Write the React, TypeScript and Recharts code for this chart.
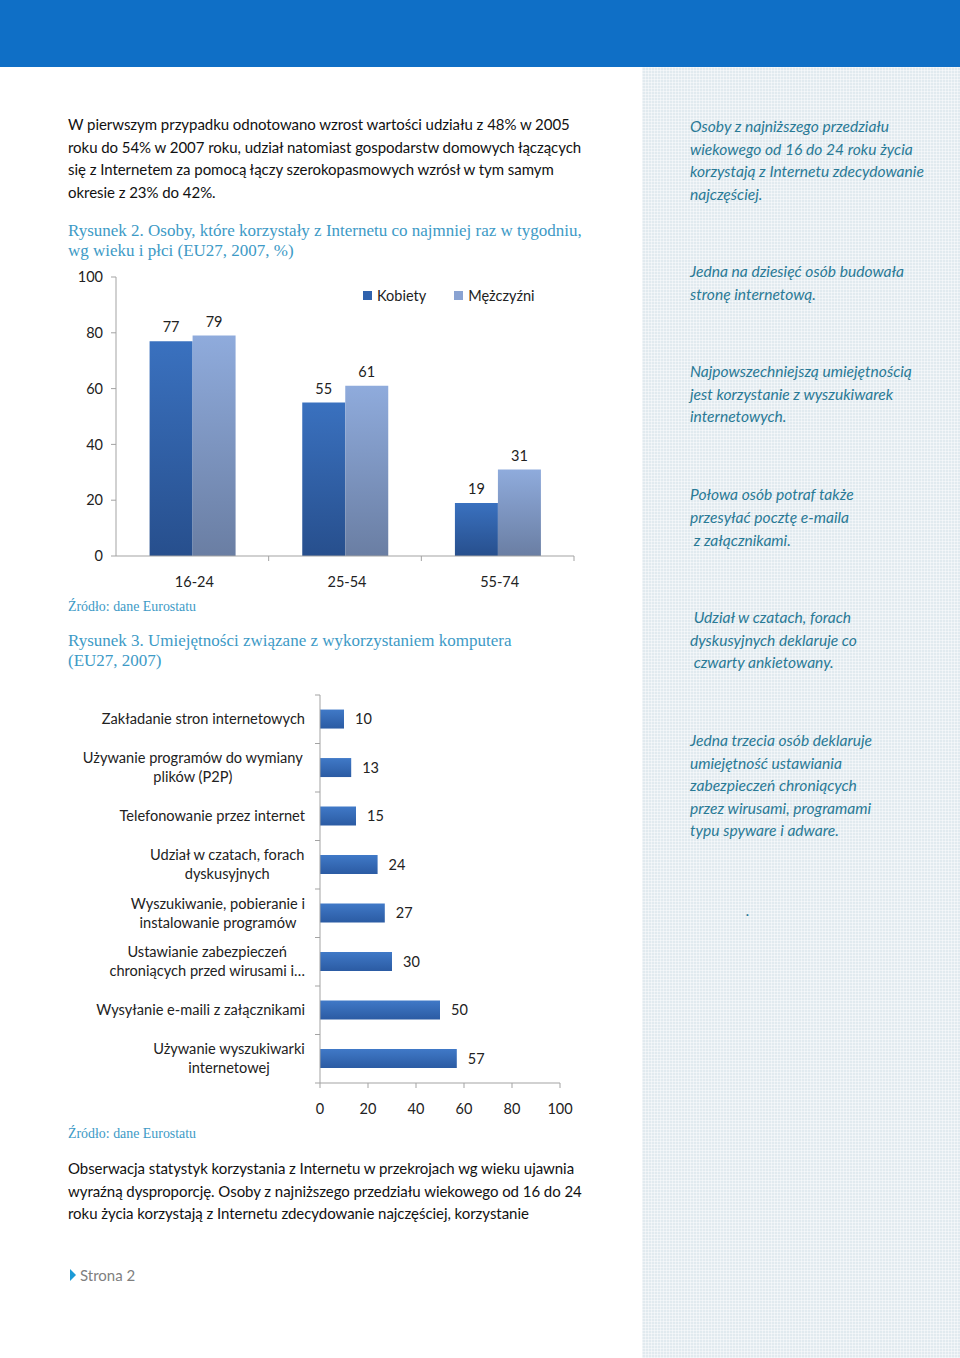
import { BarChart, Bar, XAxis, YAxis, Legend, LabelList } from 'recharts';

// Rysunek 2 – internet use by age and sex (EU27, 2007, %)
const ageGroups = ['16-24', '25-54', '55-74'];
const womenShare = [77, 55, 19];
const menShare = [79, 61, 31];
const ageTicks = [0, 20, 40, 60, 80, 100];

// Rysunek 3 – computer skills (EU27, 2007, %)
const skillNames = [
  'Zakładanie stron internetowych',
  'Używanie programów  do wymiany\nplików (P2P)',
  'Telefonowanie przez internet',
  'Udział w czatach, forach\ndyskusyjnych',
  'Wyszukiwanie, pobieranie i\ninstalowanie  programów',
  'Ustawianie  zabezpieczeń\nchroniących przed wirusami i…',
  'Wysyłanie e-maili z załącznikami',
  'Używanie wyszukiwarki\ninternetowej',
];
const skillShare = [10, 13, 15, 24, 27, 30, 50, 57];
const skillTicks = [0, 20, 40, 60, 80, 100];

const ageData = ageGroups.map((g, i) => ({ group: g, women: womenShare[i], men: menShare[i] }));
const skillData = skillNames.map((n, i) => ({ name: n, value: skillShare[i] }));

const SANS = 'Lato, "Open Sans", sans-serif';
const SERIF = '"Liberation Serif", serif';
const AXIS = '#a3a3a3';
const CAPTION = '#3d9ac6';
const SIDE = '#2a7a96';

const AGE_TICK_MARGIN = 26;
const SKILL_TICK_MARGIN = 15;
const SKILL_FONT = 14.6;

let ctx: CanvasRenderingContext2D | null = null;
function textWidth(s: string) {
  if (!ctx) ctx = document.createElement('canvas').getContext('2d');
  if (!ctx) return s.length * 7;
  ctx.font = `${SKILL_FONT}px ${SANS}`;
  return ctx.measureText(s).width;
}

function AgeTick(props: any) {
  const { x, y, payload } = props;
  const half = payload.offset ?? 0;
  const axisY = y - AGE_TICK_MARGIN;
  return (
    <g>
      <line x1={x + half} x2={x + half} y1={axisY} y2={axisY + 5} stroke={AXIS} />
      <text x={x + 2} y={y} dy="0.35em" textAnchor="middle" fontSize={14.5} fill="#222" fontFamily={SANS}>
        {payload.value}
      </text>
    </g>
  );
}

function SkillTick(props: any) {
  const { x, y, payload, index } = props;
  const half = payload.offset ?? 0;
  const axisX = x + SKILL_TICK_MARGIN;
  const lines = String(payload.value).split('\n');
  const lineH = 19;
  const y0 = y - ((lines.length - 1) * lineH) / 2;
  const multi = lines.length > 1;
  const w = Math.max(...lines.map(textWidth));
  const tx = multi ? x - w / 2 : x;
  return (
    <g>
      <line x1={axisX - 5} x2={axisX} y1={y - half} y2={y - half} stroke={AXIS} />
      {index === skillNames.length - 1 && (
        <line x1={axisX - 5} x2={axisX} y1={y + half} y2={y + half} stroke={AXIS} />
      )}
      <text textAnchor={multi ? 'middle' : 'end'} fontSize={SKILL_FONT} fill="#222" fontFamily={SANS}>
        {lines.map((l, i) => (
          <tspan key={i} x={tx} y={y0 + i * lineH} dy="0.35em">
            {l}
          </tspan>
        ))}
      </text>
    </g>
  );
}

const legendColors: Record<string, string> = { women: '#2f62ad', men: '#8aa3d2' };

function AgeLegend(props: any) {
  const items = props.payload || [];
  return (
    <div style={{ display: 'flex', fontFamily: SANS, fontSize: 14.5, color: '#222' }}>
      {items.map((it: any, i: number) => (
        <div key={i} style={{ display: 'flex', alignItems: 'center', marginRight: i === 0 ? 28 : 0 }}>
          <span style={{ width: 9, height: 9, background: legendColors[it.dataKey], marginRight: 5 }} />
          <span>{it.value}</span>
        </div>
      ))}
    </div>
  );
}

const lines = (arr: string[], left: number, top0: number, step: number, style: React.CSSProperties) =>
  arr.map((t, i) => (
    <div key={t + i} style={{ position: 'absolute', left, top: top0 + i * step, whiteSpace: 'pre', lineHeight: '20px', ...style }}>
      {t}
    </div>
  ));

const bodyText: React.CSSProperties = { fontFamily: SANS, fontSize: 15, color: '#111', letterSpacing: -0.05 };
const captionText: React.CSSProperties = { fontFamily: SERIF, fontSize: 17, color: CAPTION };
const sourceText: React.CSSProperties = { fontFamily: SERIF, fontSize: 13.9, color: CAPTION };
const sideText: React.CSSProperties = { fontFamily: SANS, fontSize: 15.6, fontStyle: 'italic', color: SIDE };

export default function App() {
  return (
    <div style={{ position: 'absolute', left: 0, top: 0, width: 960, height: 1358, background: '#fff', overflow: 'hidden' }}>
      <div style={{ position: 'absolute', left: 0, top: 0, width: 960, height: 67, background: '#0f6fc6' }} />
      <div
        style={{
          position: 'absolute', left: 642, top: 67, width: 318, height: 1291, background: '#e1eaef',
          backgroundImage:
            'repeating-linear-gradient(0deg, rgba(255,255,255,0.45) 0 1px, transparent 1px 3px), repeating-linear-gradient(90deg, rgba(255,255,255,0.45) 0 1px, transparent 1px 3px)',
        }}
      />

      {lines(
        [
          'W pierwszym przypadku odnotowano wzrost wartości udziału z 48% w 2005',
          'roku do 54% w 2007 roku, udział natomiast gospodarstw domowych łączących',
          'się z Internetem za pomocą łączy szerokopasmowych wzrósł w tym samym',
          'okresie z 23% do 42%.',
        ],
        68, 114, 22.7, bodyText
      )}

      {lines(
        ['Rysunek 2. Osoby, które korzystały z Internetu co najmniej raz w tygodniu,', 'wg wieku i płci (EU27, 2007, %)'],
        68, 221, 19.5, captionText
      )}

      <div style={{ position: 'absolute', left: 60, top: 260 }}>
        <BarChart width={540} height={340} data={ageData} margin={{ top: 17, right: 26, bottom: 14, left: 0 }} barCategoryGap="22%" barGap={0}>
          <defs>
            <linearGradient id="gradWomen" x1="0" y1="0" x2="0" y2="1">
              <stop offset="0%" stopColor="#3a71bf" />
              <stop offset="100%" stopColor="#274f8d" />
            </linearGradient>
            <linearGradient id="gradMen" x1="0" y1="0" x2="0" y2="1">
              <stop offset="0%" stopColor="#8fabdc" />
              <stop offset="100%" stopColor="#6a7ea3" />
            </linearGradient>
          </defs>
          <XAxis
            dataKey="group"
            height={30}
            axisLine={{ stroke: AXIS }}
            tickLine={false}
            tickSize={0}
            tickMargin={AGE_TICK_MARGIN}
            tick={<AgeTick />}
            interval={0}
          />
          <YAxis
            width={56}
            domain={[0, 100]}
            ticks={ageTicks}
            axisLine={{ stroke: AXIS }}
            tickLine={{ stroke: AXIS }}
            tickSize={5}
            tickMargin={8}
            tick={{ fontSize: 14.5, fill: '#222', fontFamily: SANS }}
          />
          <Legend
            layout="horizontal"
            verticalAlign="middle"
            align="center"
            content={<AgeLegend />}
            wrapperStyle={{ position: 'absolute', left: 303, top: 27, width: 'auto', height: 'auto' }}
          />
          <Bar dataKey="women" name="Kobiety" fill="url(#gradWomen)" isAnimationActive={false}>
            <LabelList dataKey="women" position="top" offset={9} fontSize={14.5} fill="#222" fontFamily={SANS} />
          </Bar>
          <Bar dataKey="men" name="Mężczyźni" fill="url(#gradMen)" isAnimationActive={false}>
            <LabelList dataKey="men" position="top" offset={9} fontSize={14.5} fill="#222" fontFamily={SANS} />
          </Bar>
        </BarChart>
      </div>

      {lines(['Źródło: dane Eurostatu'], 68, 597, 20, sourceText)}

      {lines(['Rysunek 3. Umiejętności związane z wykorzystaniem komputera', '(EU27, 2007)'], 68, 631, 19.5, captionText)}

      <div style={{ position: 'absolute', left: 60, top: 685 }}>
        <BarChart
          width={540}
          height={440}
          data={skillData}
          layout="vertical"
          margin={{ top: 10, right: 40, bottom: 12, left: 0 }}
          barCategoryGap="30%"
        >
          <defs>
            <linearGradient id="gradSkill" x1="0" y1="0" x2="0" y2="1">
              <stop offset="0%" stopColor="#4079c7" />
              <stop offset="100%" stopColor="#2b5ba3" />
            </linearGradient>
          </defs>
          <XAxis
            type="number"
            domain={[0, 100]}
            ticks={skillTicks}
            height={30}
            axisLine={{ stroke: AXIS }}
            tickLine={{ stroke: AXIS }}
            tickSize={5}
            tickMargin={16}
            tick={{ fontSize: 14.5, fill: '#222', fontFamily: SANS }}
          />
          <YAxis
            type="category"
            dataKey="name"
            width={260}
            axisLine={{ stroke: AXIS }}
            tickLine={false}
            tickSize={0}
            tickMargin={SKILL_TICK_MARGIN}
            tick={<SkillTick />}
            interval={0}
          />
          <Bar dataKey="value" fill="url(#gradSkill)" isAnimationActive={false}>
            <LabelList dataKey="value" position="right" offset={11} fontSize={14.5} fill="#222" fontFamily={SANS} />
          </Bar>
        </BarChart>
      </div>

      {lines(['Źródło: dane Eurostatu'], 68, 1124, 20, sourceText)}

      {lines(
        [
          'Obserwacja statystyk korzystania z Internetu w przekrojach wg wieku ujawnia',
          'wyraźną dysproporcję. Osoby z najniższego przedziału wiekowego od 16 do 24',
          'roku życia korzystają z Internetu zdecydowanie najczęściej, korzystanie',
        ],
        68, 1158, 22.7, bodyText
      )}

      <div
        style={{
          position: 'absolute', left: 70, top: 1269, width: 0, height: 0,
          borderTop: '6px solid transparent', borderBottom: '6px solid transparent', borderLeft: '6px solid #1b9ad6',
        }}
      />
      {lines(['Strona 2'], 80, 1265, 20, { fontFamily: SANS, fontSize: 15, color: '#7f7f7f' })}

      {lines(
        ['Osoby z najniższego przedziału', 'wiekowego od 16 do 24 roku życia', 'korzystają z Internetu zdecydowanie', 'najczęściej.'],
        690, 116, 22.5, sideText
      )}
      {lines(['Jedna na dziesięć osób budowała', 'stronę internetową.'], 690, 261, 22.5, sideText)}
      {lines(['Najpowszechniejszą umiejętnością', 'jest korzystanie z wyszukiwarek', 'internetowych.'], 690, 361, 22.5, sideText)}
      {lines(['Połowa osób potraf także', 'przesyłać pocztę e-maila', ' z załącznikami.'], 690, 484, 22.8, sideText)}
      {lines([' Udział w czatach, forach', 'dyskusyjnych deklaruje co', ' czwarty ankietowany.'], 690, 607, 22.5, sideText)}
      {lines(
        ['Jedna trzecia osób deklaruje', 'umiejętność ustawiania', 'zabezpieczeń chroniących', 'przez wirusami, programami', 'typu spyware i adware.'],
        690, 730, 22.5, sideText
      )}
      {lines(['.'], 746, 900, 20, sideText)}
    </div>
  );
}
